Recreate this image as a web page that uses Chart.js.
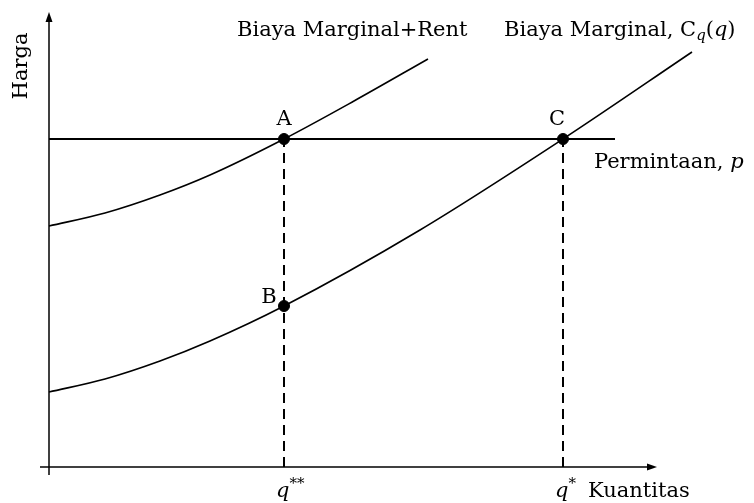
<!DOCTYPE html>
<html>
<head>
<meta charset="utf-8">
<script src="https://cdn.jsdelivr.net/npm/chart.js@4.4.0/dist/chart.umd.min.js"></script>
<style>
  html, body { margin: 0; padding: 0; background: #fff; }
  #wrap { width: 754px; height: 503px; }
</style>
</head>
<body>
<div id="wrap"><canvas id="diagram"></canvas></div>
<script>
// quantity on x, price on y (arbitrary units)
var mcX    = [0, 5.6, 11.1, 16.1, 23.5, 37.1, 51.4, 64.3];
var mcY    = [7.5, 8.8, 10.6, 12.6, 16.1, 23.7, 32.8, 41.5];
var rentX  = [0, 5.6, 11.1, 16.1, 23.5, 30.5, 37.9];
var rentY  = [24.1, 25.4, 27.2, 29.2, 32.8, 36.6, 40.8];
var priceP = 32.8;
var demandEnd = 56.6;
var qStarStar = 23.5;
var qStar = 51.4;
var pointNames = ['A', 'B', 'C'];
var pointX = [23.5, 23.5, 51.4];
var pointY = [32.8, 16.1, 32.8];
var xAxisRange = [-0.9, 60.6];
var yAxisRange = [-0.8, 45.3];

const toXY = (xs, ys) => xs.map((x, i) => ({ x: x, y: ys[i] }));

const SERIF = '"DejaVu Serif", serif';

function drawRuns(ctx, x, y, runs) {
  let cx = x;
  runs.forEach(r => {
    ctx.font = r.font;
    ctx.fillText(r.t, cx, y + (r.dy || 0));
    cx += ctx.measureText(r.t).width;
  });
}

const decorPlugin = {
  id: 'decor',
  afterDatasetsDraw(chart) {
    const ctx = chart.ctx;
    const sx = chart.scales.x, sy = chart.scales.y;
    const ox = sx.getPixelForValue(0), oy = sy.getPixelForValue(0);
    ctx.save();
    ctx.fillStyle = '#000';

    // arrow heads
    const tipY = sy.getPixelForValue(yAxisRange[1]);
    ctx.beginPath();
    ctx.moveTo(ox, tipY - 2);
    ctx.lineTo(ox - 3.5, tipY + 8);
    ctx.lineTo(ox + 3.5, tipY + 8);
    ctx.closePath();
    ctx.fill();
    const tipX = sx.getPixelForValue(xAxisRange[1]);
    ctx.beginPath();
    ctx.moveTo(tipX + 2, oy);
    ctx.lineTo(tipX - 8, oy - 3.5);
    ctx.lineTo(tipX - 8, oy + 3.5);
    ctx.closePath();
    ctx.fill();

    const normal = '21px ' + SERIF;
    const italic = 'italic 21px ' + SERIF;
    const small = 'italic 15px ' + SERIF;
    ctx.textBaseline = 'alphabetic';

    // y axis title
    ctx.save();
    ctx.translate(27, 66);
    ctx.rotate(-Math.PI / 2);
    ctx.textAlign = 'center';
    ctx.font = normal;
    ctx.fillText('Harga', 0, 0);
    ctx.restore();

    ctx.textAlign = 'left';
    drawRuns(ctx, 237, 36, [{ t: 'Biaya Marginal+Rent', font: normal }]);
    drawRuns(ctx, 504, 36, [
      { t: 'Biaya Marginal, C', font: normal },
      { t: 'q', font: small, dy: 4 },
      { t: '(', font: normal },
      { t: 'q', font: italic },
      { t: ')', font: normal }
    ]);
    drawRuns(ctx, 594, 168, [
      { t: 'Permintaan, ', font: normal },
      { t: 'p', font: italic }
    ]);

    // point letters
    ctx.font = normal;
    ctx.textAlign = 'center';
    ctx.fillText(pointNames[0], sx.getPixelForValue(pointX[0]), sy.getPixelForValue(pointY[0]) - 14);
    ctx.fillText(pointNames[2], sx.getPixelForValue(pointX[2]) - 6, sy.getPixelForValue(pointY[2]) - 14);
    ctx.fillText(pointNames[1], sx.getPixelForValue(pointX[1]) - 15, sy.getPixelForValue(pointY[1]) - 3);

    // quantity labels, the q sits on the dashed line
    ctx.textAlign = 'left';
    drawRuns(ctx, sx.getPixelForValue(qStarStar) - 8, 497, [
      { t: 'q', font: italic },
      { t: '**', font: small, dy: -9 }
    ]);
    drawRuns(ctx, sx.getPixelForValue(qStar) - 8, 497, [
      { t: 'q', font: italic },
      { t: '*', font: small, dy: -9 }
    ]);
    drawRuns(ctx, 588, 497, [{ t: 'Kuantitas', font: normal }]);

    ctx.restore();
  }
};

const lineBase = { showLine: true, pointRadius: 0, borderColor: '#000', fill: false };

const ctx_diag = document.getElementById('diagram').getContext('2d');
var myDiagram = new Chart(ctx_diag, {
  type: 'scatter',
  data: {
    datasets: [
      Object.assign({}, lineBase, { label: 'y axis', data: [{ x: 0, y: yAxisRange[0] }, { x: 0, y: yAxisRange[1] - 0.6 }], borderWidth: 1.5 }),
      Object.assign({}, lineBase, { label: 'x axis', data: [{ x: xAxisRange[0], y: 0 }, { x: xAxisRange[1] - 0.6, y: 0 }], borderWidth: 1.5 }),
      Object.assign({}, lineBase, { label: 'q**', data: [{ x: qStarStar, y: 0 }, { x: qStarStar, y: priceP }], borderWidth: 2, borderDash: [10, 6] }),
      Object.assign({}, lineBase, { label: 'q*', data: [{ x: qStar, y: 0 }, { x: qStar, y: priceP }], borderWidth: 2, borderDash: [10, 6] }),
      Object.assign({}, lineBase, { label: 'Permintaan', data: [{ x: 0, y: priceP }, { x: demandEnd, y: priceP }], borderWidth: 2 }),
      Object.assign({}, lineBase, { label: 'Biaya Marginal', data: toXY(mcX, mcY), borderWidth: 1.6, cubicInterpolationMode: 'monotone' }),
      Object.assign({}, lineBase, { label: 'Biaya Marginal+Rent', data: toXY(rentX, rentY), borderWidth: 1.6, cubicInterpolationMode: 'monotone' }),
      { label: 'titik', data: toXY(pointX, pointY), showLine: false, pointRadius: 5.5, pointBackgroundColor: '#000', pointBorderColor: '#000' }
    ]
  },
  options: {
    responsive: true,
    maintainAspectRatio: false,
    animation: false,
    layout: { padding: 0, autoPadding: false },
    plugins: { legend: { display: false }, tooltip: { enabled: false } },
    scales: {
      x: { type: 'linear', display: false, min: -4.9, max: 70.5 },
      y: { type: 'linear', display: false, min: -3.6, max: 46.7 }
    }
  },
  plugins: [decorPlugin]
});
</script>
</body>
</html>
